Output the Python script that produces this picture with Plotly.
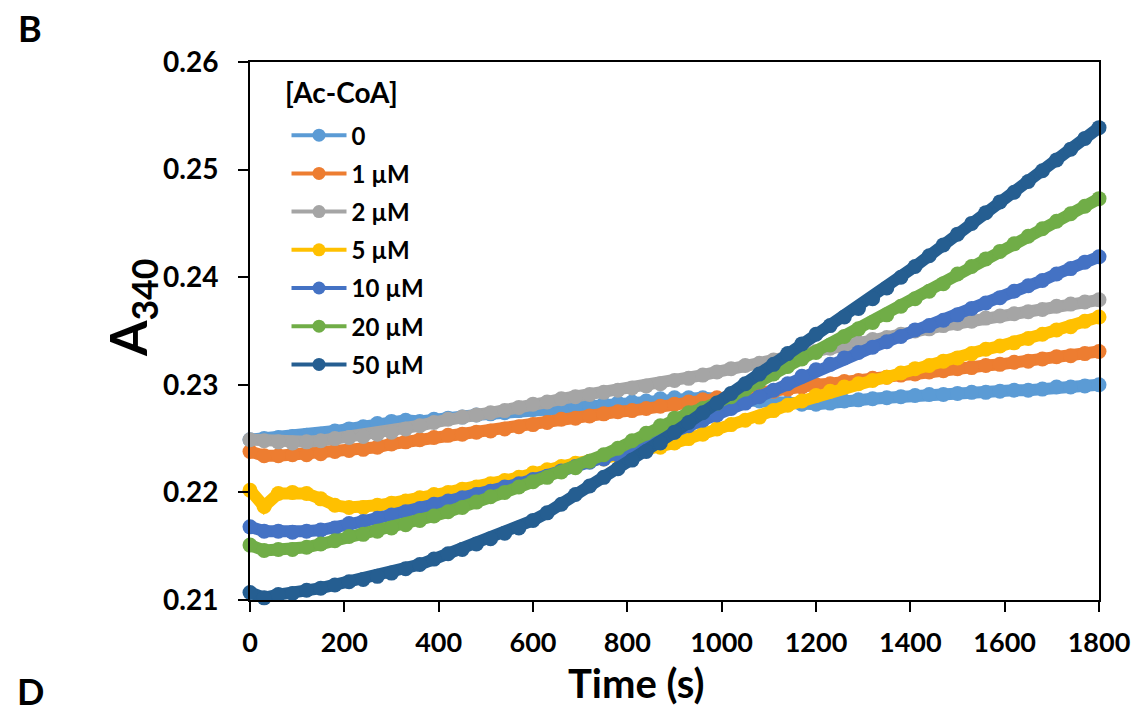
import plotly.graph_objects as go

time_s = [0, 30, 60, 90, 120, 150, 180, 210, 240, 270, 300, 330, 360, 390, 420, 450, 480, 510, 540, 570,
          600, 630, 660, 690, 720, 750, 780, 810, 840, 870, 900, 930, 960, 990, 1020, 1050, 1080, 1110, 1140, 1170,
          1200, 1230, 1260, 1290, 1320, 1350, 1380, 1410, 1440, 1470, 1500, 1530, 1560, 1590, 1620, 1650, 1680, 1710, 1740, 1770, 1800]

a_0 = [.2249, .2250, .2251, .2252, .2253, .2254, .2257, .2259, .2261, .2264, .2266, .2267, .2266, .2268, .2269, .2270, .2272, .2273, .2274, .2276,
       .2277, .2277, .2279, .2280, .2281, .2282, .2283, .2284, .2285, .2287, .2288, .2288, .2288, .2287, .2287, .2286, .2285, .2284, .2283, .2282,
       .2282, .2283, .2285, .2286, .2287, .2288, .2289, .2290, .2291, .2291, .2292, .2293, .2293, .2294, .2295, .2295, .2296, .2298, .2298, .2299, .2300]

a_1 = [.2238, .2234, .2234, .2235, .2235, .2236, .2238, .2239, .2240, .2242, .2245, .2247, .2249, .2251, .2253, .2254, .2256, .2257, .2259, .2261,
       .2263, .2265, .2268, .2269, .2271, .2273, .2275, .2276, .2278, .2280, .2282, .2284, .2286, .2288, .2289, .2291, .2293, .2294, .2296, .2298,
       .2300, .2301, .2303, .2304, .2306, .2307, .2309, .2310, .2312, .2313, .2315, .2316, .2318, .2319, .2321, .2322, .2324, .2326, .2327, .2329, .2331]

a_2 = [.2249, .2248, .2247, .2246, .2247, .2248, .2250, .2251, .2252, .2254, .2256, .2259, .2262, .2265, .2268, .2270, .2272, .2274, .2276, .2279,
       .2282, .2284, .2287, .2289, .2291, .2293, .2295, .2297, .2299, .2301, .2304, .2306, .2309, .2312, .2315, .2318, .2320, .2323, .2326, .2328,
       .2331, .2334, .2336, .2339, .2342, .2344, .2347, .2350, .2352, .2355, .2357, .2359, .2362, .2364, .2366, .2368, .2370, .2373, .2375, .2377, .2379]

a_5 = [.2202, .2187, .2199, .2200, .2199, .2194, .2188, .2186, .2186, .2188, .2190, .2192, .2195, .2198, .2200, .2203, .2205, .2208, .2211, .2214,
       .2218, .2221, .2224, .2227, .2229, .2231, .2234, .2237, .2240, .2242, .2246, .2250, .2254, .2259, .2263, .2267, .2270, .2276, .2281, .2285,
       .2290, .2294, .2298, .2301, .2304, .2307, .2311, .2315, .2318, .2322, .2325, .2329, .2333, .2336, .2339, .2343, .2347, .2351, .2354, .2359, .2363]

a_10 = [.2168, .2164, .2164, .2163, .2164, .2165, .2167, .2171, .2173, .2176, .2179, .2182, .2185, .2189, .2192, .2195, .2198, .2201, .2205, .2208,
        .2212, .2215, .2220, .2224, .2228, .2231, .2235, .2240, .2245, .2251, .2256, .2262, .2267, .2272, .2278, .2283, .2289, .2295, .2301, .2308,
        .2314, .2319, .2325, .2330, .2335, .2340, .2345, .2351, .2355, .2360, .2365, .2371, .2376, .2381, .2387, .2392, .2397, .2403, .2408, .2414, .2419]

a_20 = [.2151, .2146, .2147, .2147, .2149, .2152, .2155, .2159, .2161, .2164, .2167, .2170, .2174, .2178, .2182, .2186, .2191, .2196, .2200, .2205,
        .2210, .2214, .2219, .2223, .2229, .2235, .2241, .2248, .2255, .2262, .2269, .2274, .2278, .2283, .2289, .2296, .2303, .2310, .2317, .2324,
        .2330, .2337, .2345, .2352, .2358, .2365, .2373, .2380, .2387, .2394, .2403, .2410, .2417, .2424, .2431, .2438, .2445, .2452, .2459, .2466, .2473]

a_50 = [.2107, .2102, .2105, .2106, .2109, .2111, .2114, .2117, .2119, .2122, .2125, .2129, .2133, .2138, .2143, .2147, .2152, .2157, .2162, .2167,
        .2174, .2181, .2189, .2198, .2206, .2214, .2222, .2230, .2238, .2246, .2256, .2265, .2274, .2283, .2292, .2301, .2310, .2319, .2329, .2338,
        .2347, .2355, .2363, .2371, .2380, .2390, .2400, .2410, .2420, .2430, .2440, .2450, .2460, .2470, .2479, .2489, .2499, .2509, .2519, .2529, .2539]

series_names = ["0", "1 µM", "2 µM", "5 µM", "10 µM", "20 µM", "50 µM"]
series_values = [a_0, a_1, a_2, a_5, a_10, a_20, a_50]
colors = ["#5B9BD5", "#ED7D31", "#A5A5A5", "#FFC000", "#4472C4", "#70AD47", "#255E91"]

x_ticks = [0, 200, 400, 600, 800, 1000, 1200, 1400, 1600, 1800]
y_ticks = [0.21, 0.22, 0.23, 0.24, 0.25, 0.26]

x_title = "Time (s)"
y_title = "A<sub>340</sub>"
legend_title = "[Ac-CoA]"

FONT = "Lato"

fig = go.Figure()
for name, vals, col in zip(series_names, series_values, colors):
    fig.add_trace(go.Scatter(
        x=time_s, y=vals, mode="lines+markers", name=name,
        line=dict(color=col, width=12),
        marker=dict(color=col, size=15),
        cliponaxis=False, showlegend=False,
    ))
for name, col in zip(series_names, colors):
    fig.add_trace(go.Scatter(
        x=[None], y=[None], mode="lines+markers", name=name,
        line=dict(color=col, width=4),
        marker=dict(color=col, size=13),
        legendgroup=name, showlegend=True,
    ))

axis_common = dict(showline=True, linecolor="black", linewidth=2, mirror=True,
                   showgrid=False, zeroline=False, ticks="outside", tickcolor="black",
                   tickwidth=2, ticklen=10)

fig.update_xaxes(range=[0, 1800], tickvals=x_ticks, ticklabelstandoff=8,
                 tickfont=dict(family=FONT, size=27, color="black", weight="bold"),
                 **axis_common)
fig.update_yaxes(range=[0.21, 0.26], tickvals=y_ticks, tickformat=".2f",
                 ticklabelstandoff=14,
                 tickfont=dict(family=FONT, size=28, color="black", weight="bold"),
                 **axis_common)

fig.update_layout(
    width=1147, height=705,
    margin=dict(l=242, r=56, t=54, b=113),
    paper_bgcolor="white", plot_bgcolor="white",
    showlegend=True,
    legend=dict(
        font=dict(family=FONT, size=24, color="black", weight="bold"),
        x=0.043, y=0.905, xanchor="left", yanchor="top",
        bgcolor="rgba(0,0,0,0)", itemwidth=55, tracegroupgap=4,
        traceorder="grouped",
    ),
    annotations=[
        dict(text=legend_title, xref="paper", yref="paper", x=(283 - 250) / 849, y=(600 - 92) / 538,
             xanchor="left", yanchor="middle", showarrow=False,
             font=dict(family=FONT, size=28, color="black", weight="bold")),
        dict(text=x_title, xref="paper", yref="paper", x=(636 - 250) / 849, y=(600 - 683) / 538,
             xanchor="center", yanchor="middle", showarrow=False,
             font=dict(family=FONT, size=40, color="black", weight="bold")),
        dict(text=y_title, xref="paper", yref="paper", x=(131 - 250) / 849, y=(600 - 308) / 538,
             xanchor="center", yanchor="middle", showarrow=False, textangle=-90,
             font=dict(family=FONT, size=51, color="black", weight="bold")),
        dict(text="B", xref="paper", yref="paper", x=-0.259, y=1.063, xanchor="center", yanchor="middle",
             showarrow=False, font=dict(family=FONT, size=36, color="black", weight="bold")),
        dict(text="D", xref="paper", yref="paper", x=-0.259, y=-0.169, xanchor="center", yanchor="middle",
             showarrow=False, font=dict(family=FONT, size=36, color="black", weight="bold")),
    ],
)

fig.write_html("out.html")
